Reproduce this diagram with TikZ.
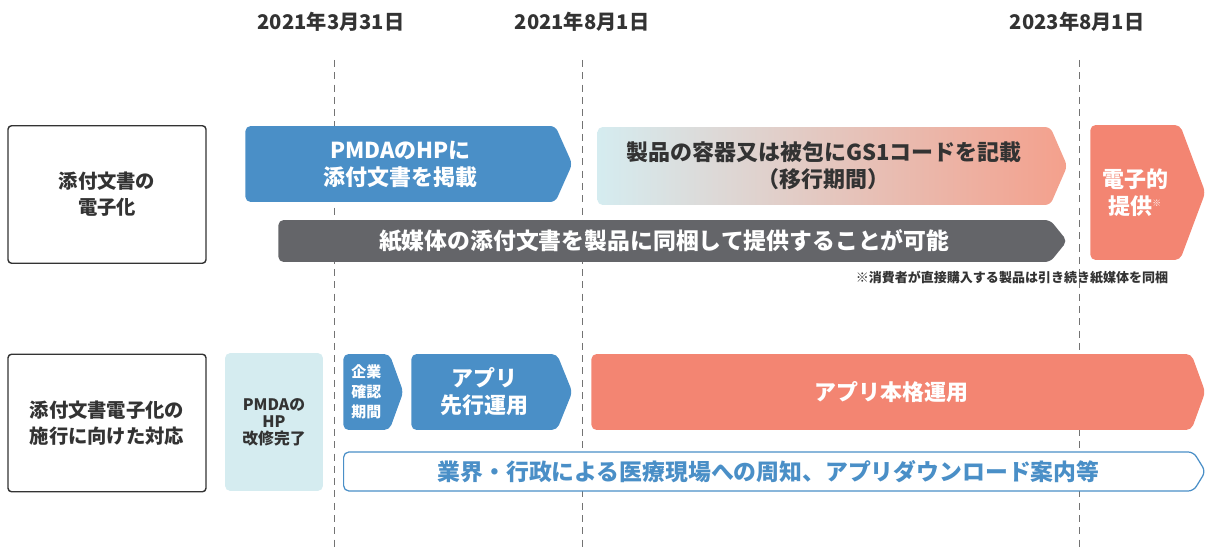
\documentclass[tikz,border=0pt]{standalone}
\usepackage{fontspec}
\setmainfont{Noto Sans CJK JP}
\usepackage{tikz}
\usetikzlibrary{shapes.symbols}
\definecolor{pmdablue}{HTML}{4A8FC7}
\definecolor{salmon}{HTML}{F38572}
\definecolor{paleblue}{HTML}{D5ECF0}
\definecolor{palesalmon}{HTML}{F4A08C}
\definecolor{slate}{HTML}{646569}
\definecolor{ink}{HTML}{333333}
\tikzset{
    %Define style for the row headers
    head/.style={
           rectangle,
           rounded corners=2pt,
           draw=ink, line width=0.8pt,
           fill=white,
           minimum width=3.96cm,
           minimum height=2.75cm,
           font=\bfseries\fontsize{11}{14.8}\selectfont,
           text=ink,
           align=center},
    %Define style for the phase arrows
    phase/.style={
           signal, signal to=east,
           rounded corners=3pt,
           inner sep=0pt,
           anchor=west,
           minimum height=1.52cm,
           font=\bfseries\fontsize{12.5}{15.4}\selectfont,
           text=white,
           align=center},
    bluephase/.style={phase, fill=pmdablue},
    redphase/.style={phase, fill=salmon},
    % Define style for the dates and guides
    date/.style={font=\bfseries\fontsize{11.5}{14}\selectfont, text=ink},
    guide/.style={draw=black!55, thin, dash pattern=on 4pt off 3pt}
}
\begin{document}
\begin{tikzpicture}[x=0.02cm,y=-0.02cm,
    small/.style={font=\bfseries\fontsize{8.5}{11.4}\selectfont}]
\useasboundingbox (0,0) rectangle (1205,547);
\foreach \x in {334,582,1079}
    \draw[guide] (\x,60) -- (\x,547);
\node[date](d1) at (331,22){2021年3月31日};
\node[date](d2) at (582,22){2021年8月1日};
\node[date](d3) at (1077,22){2023年8月1日};
% first row
\node[head](h1) at (107,194.5){添付文書の\\電子化};
\node[bluephase, minimum width=6.54cm, signal pointer angle=132](post) at (245,164){PMDAのHPに\\添付文書を掲載};
\node[phase, minimum width=9.4cm, minimum height=1.56cm, signal pointer angle=133,
      left color=paleblue, middle color=paleblue!55!palesalmon, right color=palesalmon,
      text=ink](label) at (597,166){製品の容器又は被包にGS1コードを記載\\（移行期間）};
\node[redphase, minimum width=2.3cm, minimum height=2.7cm, signal pointer angle=139](eprov) at (1090,192.5){電子的\\提供\textsuperscript{\tiny ※}};
\node[phase, fill=slate, minimum width=15.78cm, minimum height=0.84cm, signal pointer angle=102,
      font=\bfseries\fontsize{13}{15}\selectfont](paper) at (278,241){紙媒体の添付文書を製品に同梱して提供することが可能};
\node[font=\bfseries\fontsize{7.4}{9}\selectfont, text=ink](note) at (1012,278){※消費者が直接購入する製品は引き続き紙媒体を同梱};
% second row
\node[head](h2) at (107,423){添付文書電子化の\\施行に向けた対応};
\node[rectangle, rounded corners=3pt, fill=paleblue, minimum width=1.96cm, minimum height=2.76cm,
      small, font=\bfseries\fontsize{9}{9.6}\selectfont, text=ink, align=center](hp) at (274,422){PMDAの\\HP\\改修完了};
\node[bluephase, small, minimum width=1.2cm, signal pointer angle=140](check) at (343,392){企業\\確認\\期間};
\node[bluephase, minimum width=3.22cm, signal pointer angle=136](pilot) at (411,392){アプリ\\先行運用};
\node[redphase, minimum width=12.28cm, signal pointer angle=140](full) at (591,392){アプリ本格運用};
\node[phase, draw=pmdablue, line width=0.7pt, fill=white, text=pmdablue, minimum width=17.24cm,
      minimum height=0.78cm, signal pointer angle=117,
      font=\bfseries\fontsize{13}{15}\selectfont](notice) at (343,471.5){業界・行政による医療現場への周知、アプリダウンロード案内等};
\end{tikzpicture}
\end{document}
